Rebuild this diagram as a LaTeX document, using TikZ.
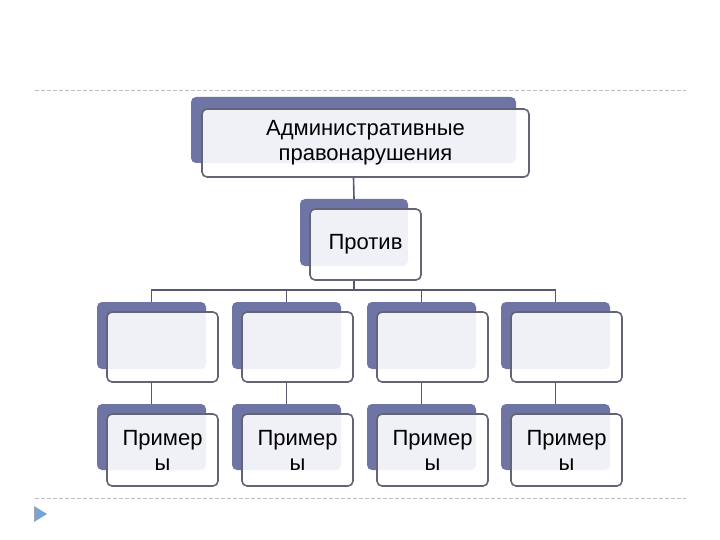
\documentclass[tikz,border=0pt]{standalone}
\usepackage{fontspec}
\setmainfont{Liberation Sans}
\definecolor{backc}{RGB}{110,117,164}
\definecolor{framec}{RGB}{100,100,118}
\definecolor{linec}{RGB}{85,88,110}
\definecolor{dashc}{RGB}{190,190,190}
\definecolor{triac}{RGB}{120,165,215}
\tikzset{
  backbox/.style={fill=backc, rounded corners=5pt, inner sep=0pt, minimum width=109pt, minimum height=67pt},
  frontbox/.style={draw=framec, line width=1.6pt, fill=white, fill opacity=0.9, text opacity=1, rounded corners=5pt, inner sep=0pt, minimum width=111pt, minimum height=70pt, align=center, font=\fontsize{22}{25}\selectfont},
  conn/.style={draw=linec, line width=1.6pt},
  sep/.style={draw=dashc, dash pattern=on 4pt off 2pt, line width=0.8pt}
}
\begin{document}
\begin{tikzpicture}[x=1pt,y=-1pt]
\useasboundingbox (0,0) rectangle (720,540);
% separators
\coordinate (s1a) at (35,90); \coordinate (s1b) at (686,90);
\coordinate (s2a) at (35,498); \coordinate (s2b) at (686,498);
\draw[sep] (s1a) -- (s1b);
\draw[sep] (s2a) -- (s2b);
\fill[triac] (34,506) -- (47,514) -- (34,522) -- cycle;
\draw[gray!70, line width=1pt] (34.5,506) -- (34.5,522);
% back boxes
\node[backbox, minimum width=325pt, minimum height=66pt] (topB) at (353.5,130) {};
\node[backbox, minimum width=108pt] (midB) at (354,232.5) {};
\foreach \i/\x in {1/151.5,2/286.5,3/421.5,4/555.5}{
  \node[backbox] (rA\i) at (\x,335.5) {};
  \node[backbox, minimum height=66pt] (rB\i) at (\x,437) {};
}
% front boxes
\node[frontbox, minimum width=327pt, minimum height=68pt] (topF) at (365.5,143) {Административные\\правонарушения};
\node[frontbox, minimum height=71pt] (midF) at (365.5,244.5) {Против};
\foreach \i/\x in {1/162.5,2/297.5,3/432.5,4/566.5}{
  \node[frontbox] (fA\i) at (\x,347) {};
  \node[frontbox, minimum height=72pt] (fB\i) at (\x,450) {Пример\\ы};
}
% connectors
\coordinate (bus) at (354,290);
\draw[conn] (topF.south -| topB) -- (midB.north);
\draw[conn] (midF.south -| midB) -- (bus);
\draw[conn] (rA1.north) |- (bus) -| (rA4.north);
\draw[conn] (rA2.north) -- (rA2 |- bus);
\draw[conn] (rA3.north) -- (rA3 |- bus);
\foreach \i in {1,2,3,4}{
  \draw[conn] (fA\i.south -| rA\i) -- (rB\i.north);
}
\end{tikzpicture}
\end{document}
